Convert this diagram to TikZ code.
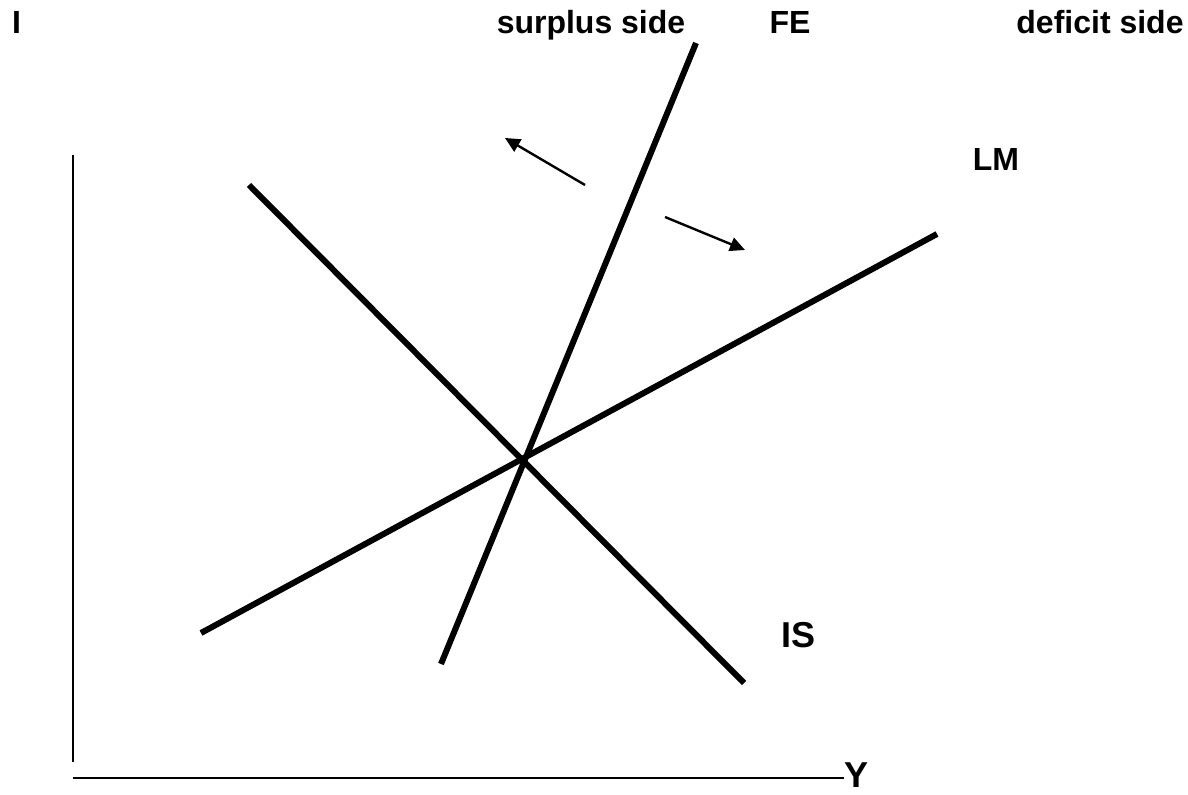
\documentclass[tikz,border=0pt]{standalone}
\usepackage{fontspec}
\setmainfont{Liberation Sans}
\usetikzlibrary{arrows.meta}

\begin{document}
\begin{tikzpicture}[x=0.5pt,y=-0.5pt,
  every node/.style={font=\fontsize{16}{18}\selectfont\bfseries,inner sep=0pt,anchor=base},
  big/.style={font=\fontsize{18}{20}\selectfont\bfseries},
  curve/.style={line width=3pt},
  axis/.style={line width=0.75pt},
  ar/.style={-{Triangle[length=7.5pt,width=7pt]},line width=1.2pt}]
\useasboundingbox (0,0) rectangle (1188,795);
% axes
\coordinate (o) at (73,778);
\coordinate (ytop) at (73,155);
\coordinate (yb) at (73,762);
\node[big] (Y) at (856,787) {Y};
\node (I) at (16.5,34) {I};
\draw[axis] (ytop) -- (yb);
\draw[axis] (o) -- (Y.west |- o);
% curves
\coordinate (is1) at (249,185);
\coordinate (is2) at (744,683);
\coordinate (lm1) at (201,633);
\coordinate (lm2) at (937,234);
\coordinate (fe1) at (441,664);
\coordinate (fe2) at (696,43);
\draw[curve] (is1) -- (is2);
\draw[curve] (lm1) -- (lm2);
\draw[curve] (fe1) -- (fe2);
% labels
\node[big] (IS) at (798,648) {IS};
\node (LM) at (996,171) {LM};
\node (FE) at (790,34) {FE};
\node (sur) at (591,34) {surplus side};
\node (def) at (1100,34) {deficit side};
% shift arrows
\coordinate (a1) at (585,185);
\coordinate (a2) at (505,138);
\coordinate (b1) at (665,217);
\coordinate (b2) at (745,250);
\draw[ar] (a1) -- (a2);
\draw[ar] (b1) -- (b2);
\end{tikzpicture}
\end{document}
